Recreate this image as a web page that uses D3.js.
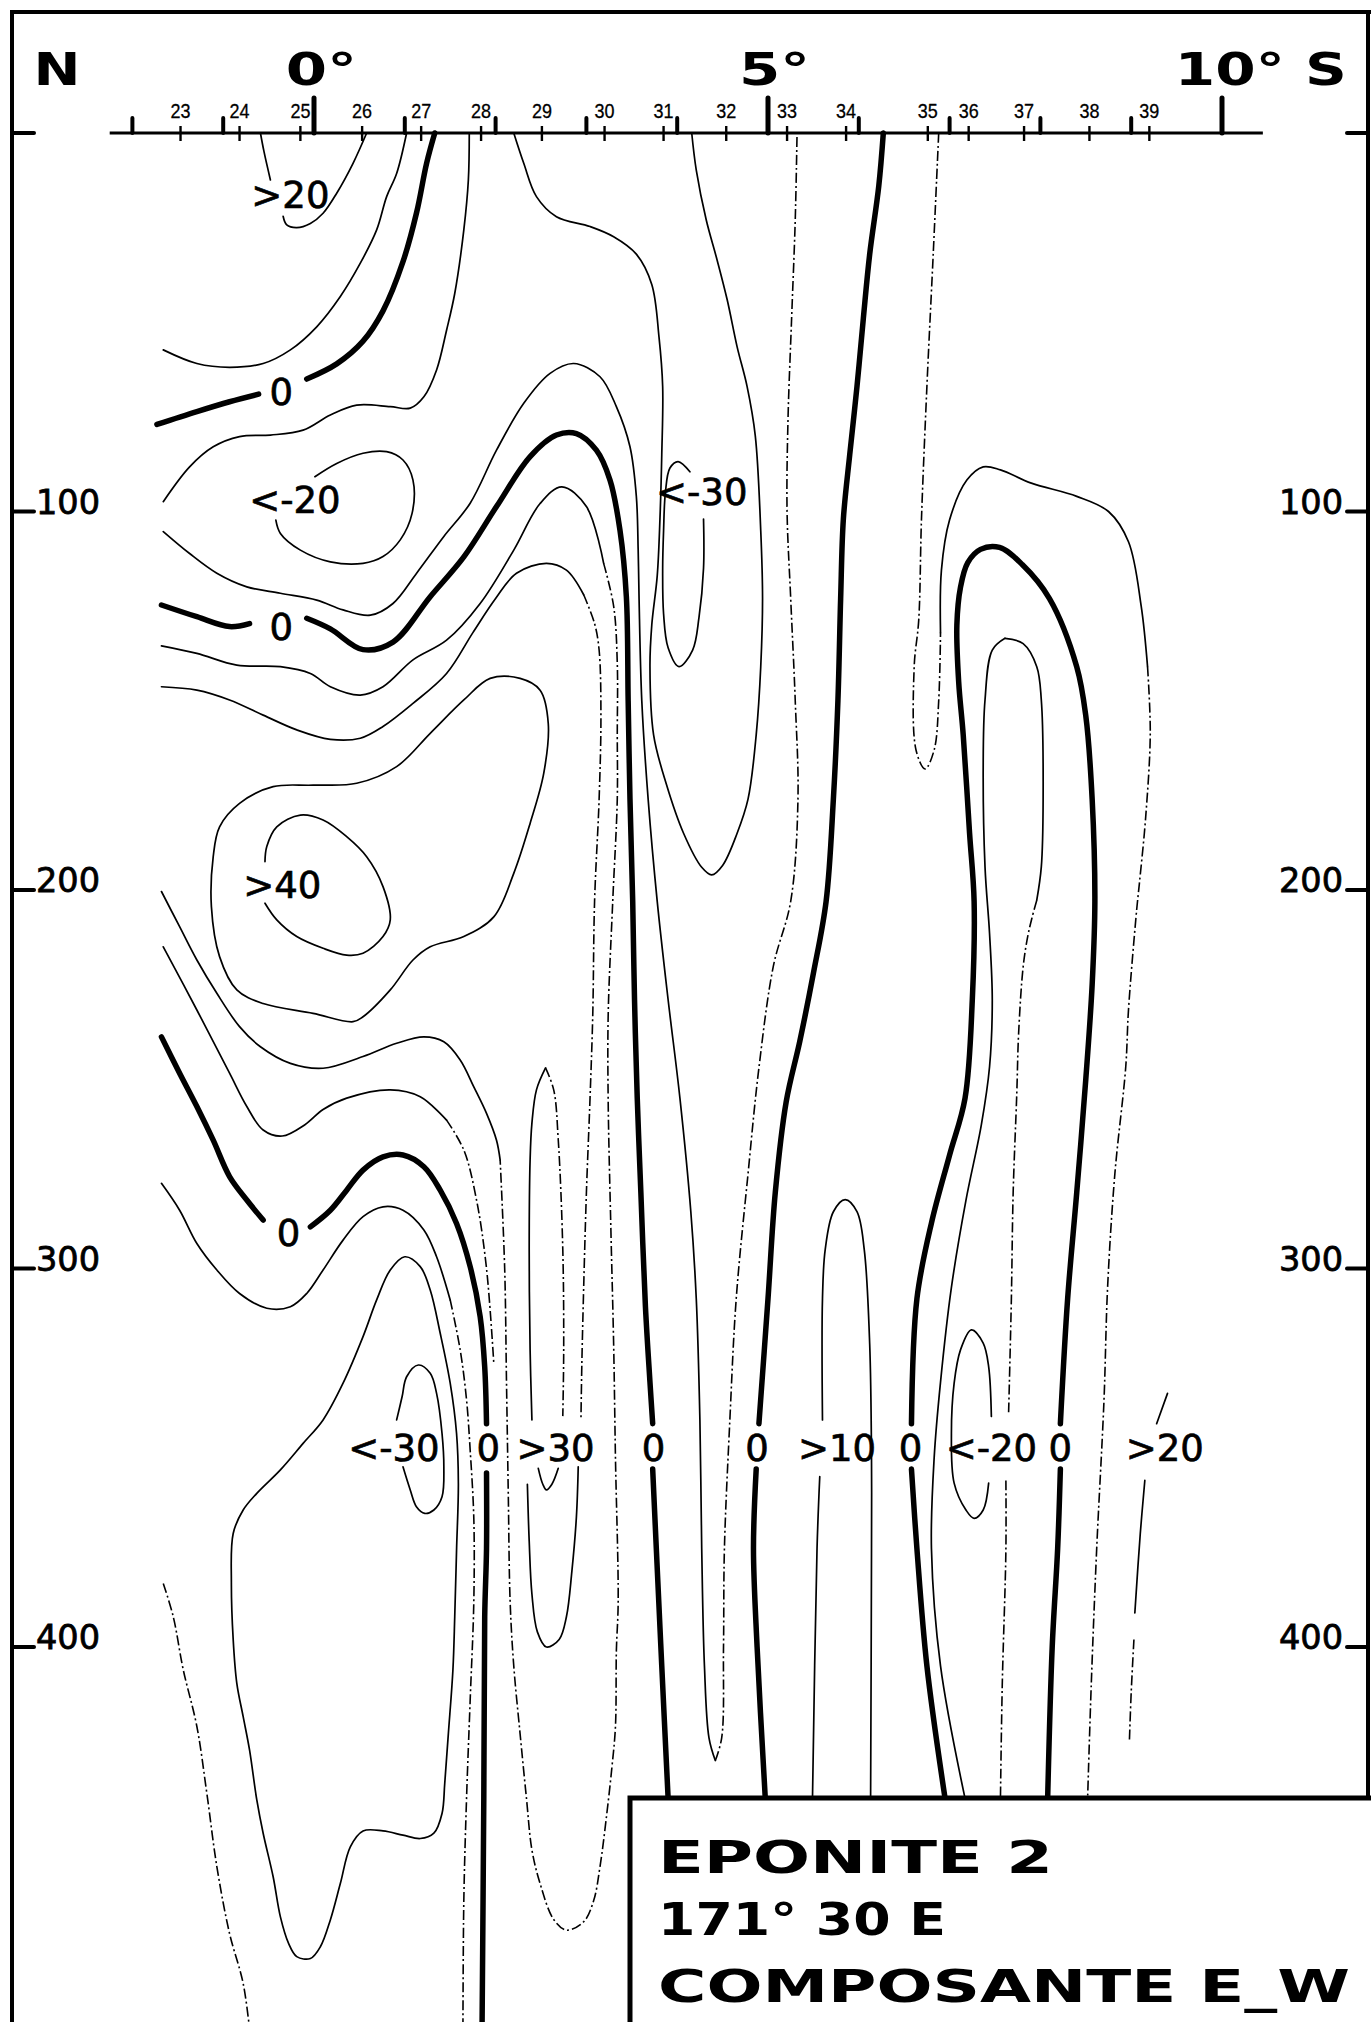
<!DOCTYPE html>
<html>
<head>
<meta charset="utf-8">
<script src="https://cdn.jsdelivr.net/npm/d3@7"></script>
<style>
body { margin: 0; background: #fff; }
svg { display: block; background: #fff; }
.thick { fill: none; stroke: #000; stroke-width: 5.5; stroke-linecap: round; stroke-linejoin: round; }
.thin { fill: none; stroke: #000; stroke-width: 1.7; stroke-linecap: round; }
.dash { fill: none; stroke: #000; stroke-width: 1.6; stroke-dasharray: 10 3 2 3; }
.frame { stroke: #000; stroke-width: 4; }
.lab { font-family: "DejaVu Sans", sans-serif; font-size: 37px; fill: #000; stroke: #000; stroke-width: 0.7; }
.head { font-family: "DejaVu Sans", sans-serif; font-weight: bold; font-size: 45px; fill: #000; }
.stn { font-family: "Liberation Sans Narrow", "Liberation Sans", sans-serif; font-size: 21px; fill: #000; stroke: #000; stroke-width: 0.3; }
.dep { font-family: "DejaVu Sans", sans-serif; font-size: 34px; fill: #000; stroke: #000; stroke-width: 0.8; }
</style>
</head>
<body>
<div id="chart"></div>
<script>
// axis values
var latTicks = [-2,-1,0,1,2,3,4,5,6,7,8,9,10];
var latMajor = [0,5,10];
var stationNum = [23,24,25,26,27,28,29,30,31,32,33,34,35,36,37,38,39];
var stationLat = [-1.47,-0.82,-0.15,0.53,1.18,1.84,2.51,3.2,3.85,4.54,5.21,5.86,6.76,7.21,7.82,8.54,9.2];
var depthTicks = [0,100,200,300,400];
var depthLabels = [100,200,300,400];
var headText = ["N","0°","5°","10° S"];
var headLat = [-3.09,-0.31,4.68,9.48];
var titleLines = ["EPONITE 2","171° 30 E","COMPOSANTE E_W"];

// contour lines : [latitude (deg, south positive), depth (m)]
var zeroA1 = [[1.33,0],[1.24,8],[1.13,21],[0.98,34],[0.76,47],[0.54,55],[0.25,61],[-0.08,65]];
var zeroA2 = [[-0.61,69],[-0.93,71],[-1.29,73.6],[-1.73,77]];
var zeroB1 = [[-1.68,124.7],[-1.29,127.8],[-0.93,130.4],[-0.71,129.6]];
var zeroB2 = [[-0.08,128.2],[0.18,131],[0.54,136.5],[0.87,134.5],[1.28,122.5],[1.65,112],[2.01,98.7],[2.38,85.5],[2.67,79.8],[2.89,79.4],[3.11,83.8],[3.26,91.7],[3.37,105],[3.44,122.5],[3.46,150],[3.48,176],[3.51,203],[3.53,229],[3.56,255],[3.6,280],[3.65,310],[3.7,330],[3.73,341]];
var zeroB3 = [[3.73,353],[3.77,374],[3.83,405],[3.9,440]];
var zeroC1 = [[-1.68,238.8],[-1.48,248.4],[-1.29,257.2],[-1.11,266.1],[-0.93,275.7],[-0.74,281.9],[-0.56,287.2]];
var zeroC2 = [[-0.04,289],[0.18,284.6],[0.36,279.3],[0.54,274],[0.76,270.5],[0.98,270],[1.21,273.1],[1.39,279.3],[1.57,288.1],[1.72,299.5],[1.83,312.7],[1.88,326],[1.9,341]];
var zeroC3 = [[1.9,354],[1.9,374],[1.88,392],[1.87,440],[1.85,503]];
var zeroD1 = [[6.27,0],[6.22,14],[6.12,32],[6.05,49],[5.98,67],[5.9,85],[5.83,102],[5.8,123],[5.77,150],[5.72,176],[5.64,203],[5.5,222],[5.35,240],[5.2,256],[5.08,280],[5.0,308],[4.9,341]];
var zeroD2 = [[4.87,353],[4.84,374],[4.88,400],[4.97,440]];
var zeroE1 = [[6.58,341],[6.64,308],[6.8,288],[7.0,270],[7.17,255],[7.25,229],[7.27,203],[7.22,185],[7.15,159],[7.1,145],[7.08,130],[7.12,120],[7.2,113.5],[7.34,110],[7.55,109.5],[7.8,114],[8.1,123],[8.4,141],[8.5,154],[8.57,176],[8.6,203],[8.57,225],[8.5,250],[8.4,280],[8.3,308],[8.22,341]];
var zeroE2 = [[6.58,353],[6.64,374],[6.75,405],[6.95,440]];
var zeroE3 = [[8.22,353],[8.19,374],[8.13,400],[8.08,440]];

var pos20a = [[-0.59,0],[-0.55,5],[-0.48,12.4]];
var pos20b = [[-0.34,22],[-0.3,24.3],[-0.19,25],[-0.04,23.9],[0.1,21.2],[0.25,15.9],[0.43,8],[0.58,0]];
var lineB = [[1.02,0],[0.91,10.7],[0.8,16.8],[0.69,25.6],[0.51,34.4],[0.29,43.2],[0.03,51.2],[-0.26,57.3],[-0.56,60.9],[-0.93,61.9],[-1.29,60.9],[-1.66,57.3]];
var lineD = [[1.71,0],[1.7,12.4],[1.65,25.6],[1.55,42.4],[1.46,52.1],[1.35,62.6],[1.21,69.7],[1.06,72.7],[0.84,72.3],[0.47,71.9],[0.18,74.5],[-0.12,78.5],[-0.48,79.8],[-0.82,80.2],[-1.11,82.9],[-1.37,88.2],[-1.66,97.4]];
var neg20a = [[-0.42,102.3],[-0.37,105.8],[-0.15,110.2],[0.18,113.3],[0.54,113.7],[0.76,111.9],[0.95,107.5],[1.08,100.5],[1.09,91.7],[0.98,86.4],[0.8,84.2],[0.54,84.6],[0.25,87.3],[0.01,90.8]];
var lineF1 = [[-1.66,105.3],[-1.37,111.1],[-1.07,116.3],[-0.74,119.9],[-0.37,121.6],[0.03,123.4],[0.32,126],[0.62,127.4],[0.87,124.3],[1.13,116.3],[1.43,106.6],[1.72,97.8],[2.01,83.8],[2.31,71.4],[2.6,63.5],[2.86,60.9],[3.15,64.4],[3.33,72.3],[3.48,82.9],[3.55,96],[3.57,110],[3.58,123],[3.61,150],[3.68,176],[3.78,203],[3.9,229],[4.03,255],[4.15,285],[4.21,308],[4.25,340],[4.27,374],[4.3,405],[4.35,424],[4.42,430]];
var lineF2 = [[4.42,430],[4.49,424],[4.51,400],[4.52,374],[4.58,340],[4.65,308],[4.78,275],[4.9,247],[5.06,220],[5.25,203],[5.33,176],[5.3,150],[5.25,123],[5.21,100],[5.22,76],[5.26,49],[5.3,23],[5.32,0]];
var neg20b = [[2.2,0],[2.31,8],[2.45,16.8],[2.67,22.1],[3.04,24.7],[3.3,27.4],[3.55,32],[3.72,40],[3.8,54],[3.84,67],[3.83,85],[3.81,102],[3.78,117],[3.72,130],[3.7,141],[3.74,159],[3.88,172],[4.07,185],[4.27,194],[4.38,196],[4.5,193.5],[4.66,185],[4.78,176],[4.87,159],[4.92,141],[4.94,123],[4.92,105],[4.86,80],[4.77,67],[4.66,56.5],[4.55,44],[4.44,33.6],[4.32,23],[4.21,9.8],[4.16,0]];
var neg30a = [[4.14,89.5],[4.01,86.8],[3.92,88.5],[3.87,95],[3.85,105],[3.84,115],[3.85,127],[3.9,136],[4.02,141],[4.17,136.6],[4.24,128],[4.29,115],[4.29,102]];
var lineG1 = [[-1.68,135.5],[-1.29,137.5],[-0.85,140.6],[-0.37,141],[-0.04,142.8],[0.18,146.3],[0.51,148.5],[0.76,146.3],[1.09,139.2],[1.46,134],[1.83,124.3],[2.2,110.2],[2.49,97.9],[2.73,93.5],[3.0,98.7],[3.19,113.7]];
var lineG2 = [[3.19,113.7],[3.3,125],[3.34,140],[3.34,159],[3.34,176],[3.29,203],[3.24,233],[3.24,256],[3.27,290],[3.3,320],[3.32,350],[3.35,388],[3.33,401],[3.32,421],[3.28,432],[3.22,445],[3.15,458],[3.08,467],[2.97,472.6],[2.78,474.8],[2.64,472],[2.49,462.5],[2.4,453.6],[2.34,440],[2.27,423],[2.2,405],[2.16,388],[2.14,360],[2.12,330],[2.1,300],[2.05,271.3]];
var lineG3 = [[2.05,271.3],[2.01,266.1],[1.9,259],[1.76,252],[1.61,244.9],[1.43,240.1],[1.21,238.8],[0.91,240.5],[0.54,244],[0.1,247.1],[-0.26,245.8],[-0.59,241.4],[-0.82,236.1],[-1.07,227.3],[-1.29,218.5],[-1.48,209.7],[-1.68,200.4]];
var lineI1 = [[-1.68,146.3],[-1.29,147.2],[-0.93,149.8],[-0.56,153.8],[-0.19,157.7],[0.18,160.2],[0.51,159.9],[0.76,156.8],[1.09,150.7],[1.46,142.8],[1.75,132],[2.0,123],[2.23,116.3],[2.56,113.7],[2.78,115.5],[2.97,122]];
var lineN1 = [[2.97,122],[3.09,129.6],[3.14,136.6],[3.16,154],[3.14,176],[3.09,203],[3.07,233],[3.04,255],[3.0,280],[2.97,305],[2.95,325],[2.94,340]];
var lineN2 = [[2.91,352.4],[2.89,365.6],[2.84,380],[2.78,392],[2.7,398],[2.56,400],[2.46,396],[2.4,386],[2.37,372],[2.35,357]];
var pos30L = [[2.55,247],[2.45,252.8],[2.4,261.6],[2.38,271.3],[2.37,295],[2.38,321.5],[2.4,340]];
var pos30R = [[2.55,247],[2.64,252.8],[2.69,266],[2.74,295],[2.75,321.5],[2.74,339]];
var pos30U = [[2.47,352.8],[2.52,357],[2.56,358.5],[2.62,357],[2.69,352.8]];
var loopJ = [[1.94,144.1],[2.27,144.1],[2.49,147.2],[2.58,156],[2.53,169.2],[2.38,182.4],[2.2,195.6],[1.98,207.1],[1.65,212.3],[1.28,215],[1.09,218.5],[0.84,226.4],[0.54,233.5],[0.43,234.8],[-0.01,232.6],[-0.56,230],[-0.85,226.4],[-1.04,217.6],[-1.13,204.4],[-1.11,191.2],[-1.04,183.3],[-0.82,177.1],[-0.45,172.7],[-0.01,172.3],[0.47,171.8],[0.91,167.4],[1.28,158.6],[1.65,149.8]];
var pos40 = [[-0.54,192.5],[-0.52,188.5],[-0.41,183.3],[-0.15,180.2],[0.1,181.5],[0.36,185.9],[0.58,191.2],[0.76,199.1],[0.84,207.9],[0.76,212.3],[0.54,216.7],[0.36,217.2],[0.1,215.4],[-0.19,212.3],[-0.41,207.9],[-0.54,203.5]];
var lineW1 = [[-1.66,215],[-1.29,231.7],[-0.93,248.4],[-0.74,257.2],[-0.56,263.4],[-0.35,265],[-0.1,262],[0.1,258],[0.36,255],[0.84,252.8],[1.17,254.6],[1.46,260.8]];
var lineW2 = [[1.46,260.8],[1.65,268.7],[1.79,281.9],[1.9,300],[1.98,325]];
var lineS1 = [[-1.68,277.5],[-1.48,284.6],[-1.29,293.4],[-1.07,300.4],[-0.82,306.6],[-0.52,310.5],[-0.26,310.1],[-0.08,306.6],[0.1,300.4],[0.32,292.5],[0.54,286.3],[0.76,283.7],[0.98,284.6],[1.21,289.8],[1.35,296.9],[1.5,308.3]];
var lineS2 = [[1.5,308.3],[1.61,321.5],[1.68,334.7],[1.72,348],[1.76,366],[1.76,388],[1.72,414],[1.68,440],[1.65,467],[1.64,503]];
var loopX = [[-0.89,370],[-0.78,363.8],[-0.63,359.4],[-0.37,353.2],[-0.12,346.2],[0.1,340],[0.32,330.3],[0.54,318],[0.69,308.3],[0.84,300.4],[1.0,296.9],[1.17,299.5],[1.28,305.7],[1.39,317.1],[1.5,330.3],[1.57,343.6],[1.59,356.8],[1.57,374.4],[1.55,392],[1.53,406],[1.48,422.8],[1.44,436],[1.41,444],[1.32,449.2],[1.17,450.6],[0.98,449.7],[0.76,448.6],[0.54,448.6],[0.4,452.8],[0.29,462.5],[0.18,472.1],[0.07,479.2],[-0.04,482.3],[-0.19,481.8],[-0.28,478.3],[-0.37,471.3],[-0.45,460.7],[-0.56,449.2],[-0.63,440.4],[-0.71,427.2],[-0.78,418.4],[-0.85,409.6],[-0.89,398],[-0.91,383]];
var neg30b = [[0.91,340],[0.97,333.9],[1.02,328.6],[1.15,325.5],[1.28,327.7],[1.35,333],[1.41,343.6],[1.43,352.4],[1.41,360.3],[1.32,363.8],[1.22,364.7],[1.13,363],[1.06,358.5],[0.98,352.4]];
var lineU = [[-1.66,383.2],[-1.55,392],[-1.44,406],[-1.29,421],[-1.18,438.7],[-1.07,458],[-0.93,475.7],[-0.78,488.9],[-0.7,503]];
var pos10a = [[5.49,440],[5.54,374],[5.57,355]];
var pos10b = [[5.6,340],[5.6,308],[5.63,295],[5.72,285],[5.85,281.8],[5.98,285],[6.06,295],[6.12,320],[6.14,350],[6.14,374],[6.13,440]];
var innerL = [[7.61,133.5],[7.47,136.6],[7.39,149.8],[7.37,167.4],[7.39,193.9],[7.44,211.5],[7.47,229.1],[7.44,246.7],[7.35,262],[7.18,282],[7.02,305],[6.9,330],[6.83,350],[6.8,374],[6.9,405],[7.17,440]];
var innerR1 = [[7.61,133.5],[7.81,134.9],[7.96,141],[8.01,149.8],[8.03,176.2],[8.01,193.9],[7.96,202.7]];
var innerR2 = [[7.96,202.7],[7.91,207.1],[7.86,212.3],[7.81,220.3],[7.76,237.9],[7.74,253.7],[7.7,280],[7.68,308.3],[7.65,338]];
var innerR3 = [[7.62,356],[7.62,374.4],[7.58,410],[7.56,440]];
var neg20c = [[7.46,339.1],[7.43,325.9],[7.37,319.7],[7.24,316.2],[7.12,321.5],[7.05,330.3],[7.02,343.5],[7.05,356.7],[7.18,363.8],[7.27,366],[7.37,363.8],[7.43,356.7]];
var lineY1 = [[6.88,0],[6.82,31.8],[6.75,67],[6.69,102.2],[6.66,128.7],[6.61,141],[6.63,163],[6.73,168],[6.83,163],[6.88,150],[6.9,132]];
var lineY2 = [[6.9,132],[6.91,115.5],[7.0,102.2],[7.19,91.7],[7.37,88.2],[7.56,89],[7.9,92.5],[8.4,96],[8.75,100],[8.97,108],[9.11,125],[9.18,141]];
var lineY3 = [[9.18,141],[9.21,158.6],[9.16,180.6],[9.09,198.3],[9.06,205.3],[8.97,231.7],[8.94,246.7],[8.82,275],[8.74,305],[8.7,335],[8.62,374],[8.56,410],[8.52,440]];
var pos20c = [[9.4,333],[9.28,341]];
var pos20d = [[9.15,356],[9.1,370],[9.04,391]];
var pos20e = [[9.03,398],[9.0,412],[8.98,425]];

// contour labels
var labelText  = [">20","0","<-20","0",">40","0","<-30","<-30","0",">30","0","0",">10","0","<-20","0",">20"];
var labelLat   = [-0.26,-0.36,-0.21,-0.36,-0.35,-0.28,4.27,0.88,1.92,2.66,3.74,4.88,5.76,6.57,7.46,8.22,9.37];
var labelDepth = [16.4,68.3,97,130.4,198.7,290.7,94.8,347.5,347.5,347.5,347.5,347.5,347.5,347.5,347.5,347.5,347.5];

var W = 1371, H = 2022;

var x = d3.scaleLinear().domain([0, 10]).range([314, 1222]);
var y = d3.scaleLinear().domain([0, 400]).range([133, 1647]);

var line = d3.line()
	.x(function(d) { return x(d[0]) })
	.y(function(d) { return y(d[1]) })
	.curve(d3.curveCatmullRom.alpha(0.5));

var loop = d3.line()
	.x(function(d) { return x(d[0]) })
	.y(function(d) { return y(d[1]) })
	.curve(d3.curveCatmullRomClosed.alpha(0.5));

var svg = d3.select("#chart").append("svg")
	.attr("width", W)
	.attr("height", H)

// outer frame
svg.append("line").attr("class", "frame").attr("x1", 10).attr("x2", W).attr("y1", 12).attr("y2", 12)
svg.append("line").attr("class", "frame").attr("x1", 12).attr("x2", 12).attr("y1", 10).attr("y2", H)
svg.append("line").attr("class", "frame").attr("x1", 1368).attr("x2", 1368).attr("y1", 10).attr("y2", 1800)

// top latitude axis
var latMin = -2.25, latMax = 10.45;
svg.append("line")
	.attr("x1", x(latMin)).attr("x2", x(latMax))
	.attr("y1", y(0)).attr("y2", y(0))
	.style("stroke", "#000").style("stroke-width", 3)

svg.selectAll(".degtick")
	.data(latTicks)
	.enter()
	.append("line")
	.attr("class", "degtick")
	.attr("x1", function(d) { return x(d) })
	.attr("x2", function(d) { return x(d) })
	.attr("y1", function(d) { return latMajor.indexOf(d) >= 0 ? y(0) - 35 : y(0) - 15 })
	.attr("y2", y(0))
	.style("stroke", "#000")
	.style("stroke-width", function(d) { return latMajor.indexOf(d) >= 0 ? 5 : 4 })
	.style("stroke-linecap", "round")

svg.selectAll(".stntick")
	.data(stationLat)
	.enter()
	.append("line")
	.attr("class", "stntick")
	.attr("x1", function(d) { return x(d) })
	.attr("x2", function(d) { return x(d) })
	.attr("y1", y(0) - 7)
	.attr("y2", y(0) + 8)
	.style("stroke", "#000")
	.style("stroke-width", 2.4)

svg.selectAll(".stn")
	.data(stationNum)
	.enter()
	.append("text")
	.attr("class", "stn")
	.attr("x", function(d, i) { return x(stationLat[i]) })
	.attr("y", y(0) - 15)
	.attr("text-anchor", "middle")
	.attr("textLength", 20)
	.attr("lengthAdjust", "spacingAndGlyphs")
	.text(function(d) { return d })

var headWidth = [47, 71, 71, 172];
svg.selectAll(".head")
	.data(headText)
	.enter()
	.append("text")
	.attr("class", "head")
	.attr("x", function(d, i) { return x(headLat[i]) })
	.attr("y", 85)
	.attr("textLength", function(d, i) { return headWidth[i] })
	.attr("lengthAdjust", "spacingAndGlyphs")
	.text(function(d) { return d })

// depth ticks both sides
svg.selectAll(".dtickL")
	.data(depthTicks)
	.enter()
	.append("line")
	.attr("x1", 12).attr("x2", 34)
	.attr("y1", function(d) { return y(d) })
	.attr("y2", function(d) { return y(d) })
	.style("stroke", "#000").style("stroke-width", 4).style("stroke-linecap", "round")

svg.selectAll(".dtickR")
	.data(depthTicks)
	.enter()
	.append("line")
	.attr("x1", 1347).attr("x2", 1368)
	.attr("y1", function(d) { return y(d) })
	.attr("y2", function(d) { return y(d) })
	.style("stroke", "#000").style("stroke-width", 4).style("stroke-linecap", "round")

svg.selectAll(".depL")
	.data(depthLabels)
	.enter()
	.append("text")
	.attr("class", "dep")
	.attr("x", 36)
	.attr("y", function(d) { return y(d) + 2 })
	.attr("textLength", 64)
	.attr("lengthAdjust", "spacingAndGlyphs")
	.text(function(d) { return d })

svg.selectAll(".depR")
	.data(depthLabels)
	.enter()
	.append("text")
	.attr("class", "dep")
	.attr("x", 1279)
	.attr("y", function(d) { return y(d) + 2 })
	.attr("textLength", 64)
	.attr("lengthAdjust", "spacingAndGlyphs")
	.text(function(d) { return d })

// contours
var contours = [
	{d: zeroA1, s: "thick"}, {d: zeroA2, s: "thick"},
	{d: zeroB1, s: "thick"}, {d: zeroB2, s: "thick"}, {d: zeroB3, s: "thick"},
	{d: zeroC1, s: "thick"}, {d: zeroC2, s: "thick"}, {d: zeroC3, s: "thick"},
	{d: zeroD1, s: "thick"}, {d: zeroD2, s: "thick"},
	{d: zeroE1, s: "thick"}, {d: zeroE2, s: "thick"}, {d: zeroE3, s: "thick"},
	{d: pos20a, s: "thin"}, {d: pos20b, s: "thin"},
	{d: lineB, s: "thin"}, {d: lineD, s: "thin"}, {d: neg20a, s: "thin"},
	{d: lineF1, s: "thin"}, {d: lineF2, s: "dash"},
	{d: neg20b, s: "thin"}, {d: neg30a, s: "thin"},
	{d: lineG1, s: "thin"}, {d: lineG2, s: "dash"}, {d: lineG3, s: "thin"},
	{d: lineI1, s: "thin"}, {d: lineN1, s: "dash"}, {d: lineN2, s: "thin"},
	{d: pos30L, s: "thin"}, {d: pos30R, s: "dash"}, {d: pos30U, s: "thin"},
	{d: loopJ, s: "thin", closed: true}, {d: pos40, s: "thin"},
	{d: lineW1, s: "thin"}, {d: lineW2, s: "dash"},
	{d: lineS1, s: "thin"}, {d: lineS2, s: "dash"},
	{d: loopX, s: "thin", closed: true}, {d: neg30b, s: "thin"},
	{d: lineU, s: "dash"},
	{d: pos10a, s: "thin"}, {d: pos10b, s: "thin"},
	{d: innerL, s: "thin"}, {d: innerR1, s: "thin"}, {d: innerR2, s: "dash"}, {d: innerR3, s: "dash"},
	{d: neg20c, s: "thin"},
	{d: lineY1, s: "dash"}, {d: lineY2, s: "thin"}, {d: lineY3, s: "dash"},
	{d: pos20c, s: "thin"}, {d: pos20d, s: "thin"}, {d: pos20e, s: "dash"}
];

svg.selectAll(".contour")
	.data(contours)
	.enter()
	.append("path")
	.attr("class", function(c) { return "contour " + c.s })
	.attr("d", function(c) { return c.closed ? loop(c.d) : line(c.d) })

svg.selectAll(".lab")
	.data(labelText)
	.enter()
	.append("text")
	.attr("class", "lab")
	.attr("x", function(d, i) { return x(labelLat[i]) })
	.attr("y", function(d, i) { return y(labelDepth[i]) + 13 })
	.attr("text-anchor", "middle")
	.text(function(d) { return d })

// title box, lower right
svg.append("rect")
	.attr("x", 630).attr("y", 1798)
	.attr("width", W - 630 + 10).attr("height", H - 1798 + 10)
	.style("fill", "#fff")
	.style("stroke", "#000").style("stroke-width", 5)

var titleBase = [1873, 1935, 2002];
var titleWidth = [395, 288, 692];
svg.selectAll(".title")
	.data(titleLines)
	.enter()
	.append("text")
	.attr("class", "head")
	.attr("x", 658)
	.attr("y", function(d, i) { return titleBase[i] })
	.attr("textLength", function(d, i) { return titleWidth[i] })
	.attr("lengthAdjust", "spacingAndGlyphs")
	.text(function(d) { return d })
</script>
</body>
</html>
